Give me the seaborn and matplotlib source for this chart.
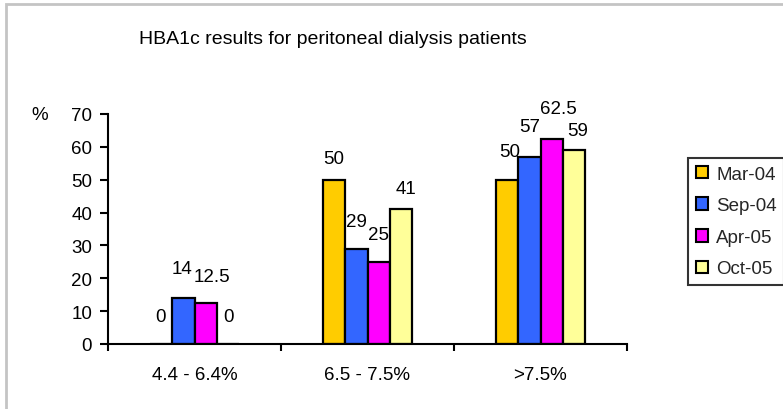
import matplotlib
matplotlib.use("Agg")
import matplotlib.pyplot as plt
import matplotlib.patches as mpatches
import numpy as np
import pandas as pd
import seaborn as sns

# HbA1c bands and the survey rounds
categories = ["4.4 - 6.4%", "6.5 - 7.5%", ">7.5%"]
periods = ["Mar-04", "Sep-04", "Apr-05", "Oct-05"]
mar_04 = [0, 50, 50]
sep_04 = [14, 29, 57]
apr_05 = [12.5, 25, 62.5]
oct_05 = [0, 41, 59]
value_labels = [["0", "50", "50"], ["14", "29", "57"],
                ["12.5", "25", "62.5"], ["0", "41", "59"]]
y_ticks = [0, 10, 20, 30, 40, 50, 60, 70]

colors = ["#FFCC00", "#3366FF", "#FF00FF", "#FFFF99"]

series = [mar_04, sep_04, apr_05, oct_05]
df = pd.DataFrame({
    "band": np.repeat([categories], len(periods), axis=0).ravel(),
    "period": np.repeat(periods, len(categories)),
    "pct": np.concatenate(series),
})

sns.set_theme(style="white")
plt.rcParams["font.family"] = ["Liberation Sans", "DejaVu Sans"]

FS = 13.5
W, H = 783, 410
fig = plt.figure(figsize=(W / 100, H / 100), dpi=100)
ax = fig.add_axes([108 / W, 1 - 345 / H, 519 / W, 230 / H])

sns.barplot(data=df, x="band", y="pct", hue="period", order=categories,
            hue_order=periods, palette=colors, width=0.52, gap=0,
            edgecolor="black", linewidth=1.6, saturation=1, legend=False,
            ax=ax, errorbar=None)

ax.set_xlim(-0.5, 2.5)
ax.set_ylim(0, 70)
ax.set_yticks(y_ticks)
ax.set_xlabel("")
ax.set_ylabel("")

for s in ["top", "right"]:
    ax.spines[s].set_visible(False)
for s in ["left", "bottom"]:
    ax.spines[s].set_color("black")
    ax.spines[s].set_linewidth(1.5)

ax.tick_params(axis="y", which="major", direction="out", length=5.5, width=1.5,
               color="black", pad=6, labelsize=FS, labelcolor="black", left=True)
ax.tick_params(axis="x", which="major", length=0, pad=16, labelsize=FS,
               labelcolor="black")
ax.set_xticks([-0.5, 0.5, 1.5, 2.5], minor=True)
ax.tick_params(axis="x", which="minor", direction="out", length=5, width=1.5,
               color="black", bottom=True)

# value labels above each bar (pixel offsets keep crowded labels apart)
dy = [[27, 21, 28], [29, 27, 30], [26, 27, 30], [27, 21, 20]]
dx = [[0, 0, 3], [-1, 0, 0], [6, 0, 7], [0, 5, 3]]
containers = ax.containers
for i, cont in enumerate(containers):
    for j, bar in enumerate(cont):
        xc = bar.get_x() + bar.get_width() / 2
        ax.annotate(value_labels[i][j], (xc, bar.get_height()),
                    xytext=(dx[i][j], dy[i][j]), textcoords="offset pixels",
                    ha="center", va="center", fontsize=FS, color="black",
                    annotation_clip=False)

fig.text(333 / W, 1 - 40 / H,
         "HBA1c results for peritoneal dialysis patients",
         ha="center", va="center", fontsize=14, color="black")
fig.text(40 / W, 1 - 116 / H, "%", ha="center", va="center", fontsize=FS,
         color="black")

handles = [mpatches.Patch(facecolor=c, edgecolor="black", linewidth=1.5)
           for c in colors]
leg = fig.legend(handles, periods, loc="lower left",
                 bbox_to_anchor=(688 / W, 1 - 286 / H), fontsize=FS,
                 frameon=True, fancybox=False, handlelength=0.65,
                 handleheight=0.65, handletextpad=0.45, labelspacing=0.78,
                 borderpad=0.4, borderaxespad=0)
leg.get_frame().set_edgecolor("black")
leg.get_frame().set_linewidth(1.5)

# outer chart frame
fig.patches.append(mpatches.Rectangle((6 / W, -0.05), 1.2, 1 - 5 / H + 0.05,
                                      transform=fig.transFigure,
                                      facecolor="none", edgecolor="#c4c4c4",
                                      linewidth=2, zorder=0))

fig.savefig("out.png", dpi=100)
